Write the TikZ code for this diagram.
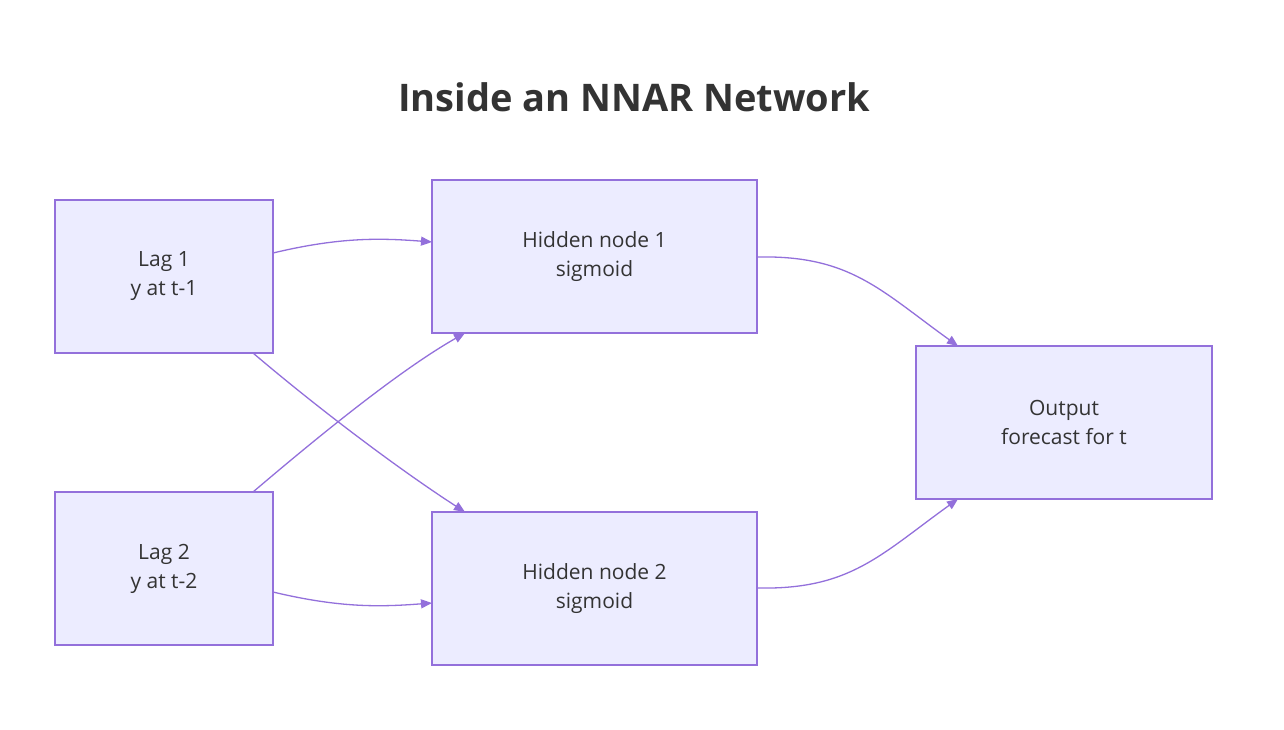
\documentclass[tikz,border=0pt]{standalone}
\usepackage{fontspec}
\setmainfont{Open Sans}
\usetikzlibrary{arrows.meta}
\definecolor{bfill}{HTML}{ECECFF}
\definecolor{bline}{HTML}{9370DB}
\definecolor{txt}{HTML}{333333}
\begin{document}
\begin{tikzpicture}[x=1pt,y=-1pt,
  box/.style={draw=bline,fill=bfill,line width=1.3pt,text=txt,font=\fontsize{21}{29}\selectfont,align=center,inner sep=0pt},
  edge/.style={draw=bline,line width=1.3pt,-{Triangle[length=11pt,width=9pt]}}]
\useasboundingbox (0,0) rectangle (1284,730);
\node[text=txt,font=\bfseries\fontsize{38}{44}\selectfont] (title) at (634,97) {Inside an NNAR Network};
\node[box,minimum width=218pt,minimum height=153pt] (l1) at (164,276.5) {Lag 1\\y at t-1};
\node[box,minimum width=218pt,minimum height=153pt] (l2) at (164,568.5) {Lag 2\\y at t-2};
\node[box,minimum width=325pt,minimum height=153pt] (h1) at (594.5,256.5) {Hidden node 1\\sigmoid};
\node[box,minimum width=325pt,minimum height=153pt] (h2) at (594.5,588.5) {Hidden node 2\\sigmoid};
\node[box,minimum width=296pt,minimum height=153pt] (o) at (1064,422.5) {Output\\forecast for t};
\coordinate (a1) at (273,253); \coordinate (a2) at (432,242);
\draw[edge] (a1) .. controls (340,237) and (380,238) .. (a2);
\coordinate (b1) at (253,353); \coordinate (b2) at (465,512);
\draw[edge] (b1) .. controls (320,410) and (400,470) .. (b2);
\coordinate (c1) at (253,492); \coordinate (c2) at (465,333);
\draw[edge] (c1) .. controls (320,435) and (400,370) .. (c2);
\coordinate (d1) at (273,592); \coordinate (d2) at (432,603);
\draw[edge] (d1) .. controls (340,608) and (380,607) .. (d2);
\coordinate (e1) at (757,257); \coordinate (e2) at (958,346);
\draw[edge] (e1) .. controls (850,255) and (880,290) .. (e2);
\coordinate (f1) at (757,588); \coordinate (f2) at (958,499);
\draw[edge] (f1) .. controls (850,590) and (880,555) .. (f2);
\end{tikzpicture}
\end{document}
